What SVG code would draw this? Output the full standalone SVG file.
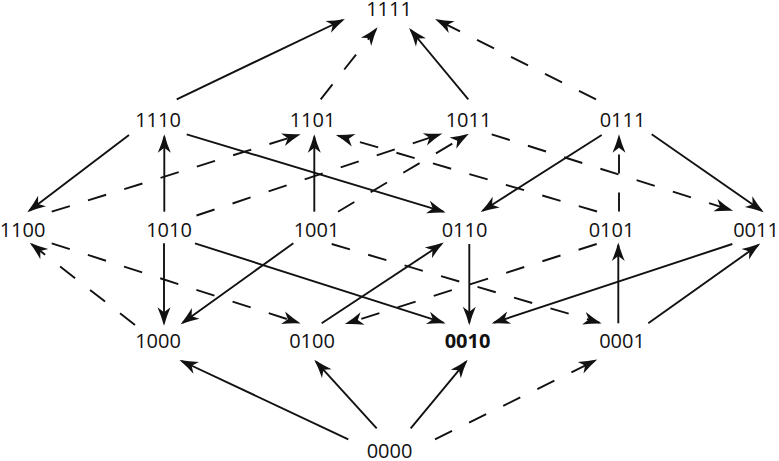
<svg xmlns="http://www.w3.org/2000/svg" width="779" height="461" viewBox="0 0 779 461">
<style>
.e{fill:none;stroke:#111;stroke-width:1.9;marker-end:url(#ah)}
.d{stroke-dasharray:19 19}
text{font-family:"Open Sans","Noto Sans","Liberation Sans",sans-serif;font-size:20px;fill:#111;text-anchor:middle}
.b{font-weight:bold}
</style>
<defs>
<marker id="ah" markerUnits="userSpaceOnUse" orient="auto" refX="0" refY="0" markerWidth="30" markerHeight="30" viewBox="-25 -15 30 30" overflow="visible">
<path d="M2.5,0 Q-7,-2.6 -16,-6.5 L-11,0 L-16,6.5 Q-7,2.6 2.5,0 Z" fill="#111"/>
</marker>
</defs>
<rect width="779" height="461" fill="#fff"/>
<g id="edges">
<path class="e" d="M176.7,99.3 L342.7,20"/>
<path class="e d" d="M320.7,99.3 L376,29.3"/>
<path class="e" d="M468.3,99.3 L410.7,30"/>
<path class="e d" d="M596,99.3 L437.3,20"/>
<path class="e" d="M129,135 L29.3,210.7"/>
<path class="e" d="M164.3,211.7 L164.3,136.7"/>
<path class="e d" d="M51.7,211.7 L298.3,135"/>
<path class="e d" d="M196.5,215.5 L440,134.3"/>
<path class="e d" d="M338,211.7 L466.7,135"/>
<path class="e" d="M314.3,211.7 L314.3,136.7"/>
<path class="e d" d="M597,211.5 L338.3,135.7"/>
<path class="e" d="M186.7,134.3 L443.3,211.7"/>
<path class="e" d="M601.7,135 L482.7,210.7"/>
<path class="e d" d="M619,211.5 L619,136.7"/>
<path class="e" d="M651.7,134.3 L761.7,210.7"/>
<path class="e d" d="M491.7,134.3 L730.7,210"/>
<path class="e" d="M164,243.3 L164,323.3"/>
<path class="e" d="M293.3,243.3 L182.7,322.7"/>
<path class="e d" d="M135,325 L31.7,244.3"/>
<path class="e d" d="M51.7,243.3 L298.3,322.7"/>
<path class="e" d="M195,243.3 L443.3,322.7"/>
<path class="e d" d="M331.7,244 L599.3,322.7"/>
<path class="e" d="M321.7,323.3 L441.7,244"/>
<path class="e d" d="M596.7,244 L347.3,323.3"/>
<path class="e" d="M469.3,244 L469.3,322.7"/>
<path class="e" d="M732.3,244 L494,322.7"/>
<path class="e" d="M618.3,323.3 L618.3,245"/>
<path class="e" d="M648.3,323.3 L758.3,245"/>
<path class="e" d="M348.3,439.3 L181.7,361"/>
<path class="e" d="M376.7,428.3 L316,361.7"/>
<path class="e" d="M410.7,428.3 L466,361.7"/>
<path class="e d" d="M435,439.3 L595,360.7"/>
</g>
<g id="n1111"><text x="389" y="16">1111</text></g>
<g id="n1110"><text x="158" y="126.5">1110</text></g>
<g id="n1101"><text x="312.5" y="126.5">1101</text></g>
<g id="n1011"><text x="468.5" y="126.5">1011</text></g>
<g id="n0111"><text x="622.5" y="126.5">0111</text></g>
<g id="n1100"><text x="22.5" y="236.5">1100</text></g>
<g id="n1010"><text x="169" y="236.5">1010</text></g>
<g id="n1001"><text x="316.5" y="236.5">1001</text></g>
<g id="n0110"><text x="464.5" y="236.5">0110</text></g>
<g id="n0101"><text x="611.5" y="236.5">0101</text></g>
<g id="n0011"><text x="756" y="236.5">0011</text></g>
<g id="n1000"><text x="158" y="348">1000</text></g>
<g id="n0100"><text x="312" y="348">0100</text></g>
<g id="n0010"><text class="b" x="467.5" y="348">0010</text></g>
<g id="n0001"><text x="622" y="348">0001</text></g>
<g id="n0000"><text x="389.5" y="458">0000</text></g>
</svg>
